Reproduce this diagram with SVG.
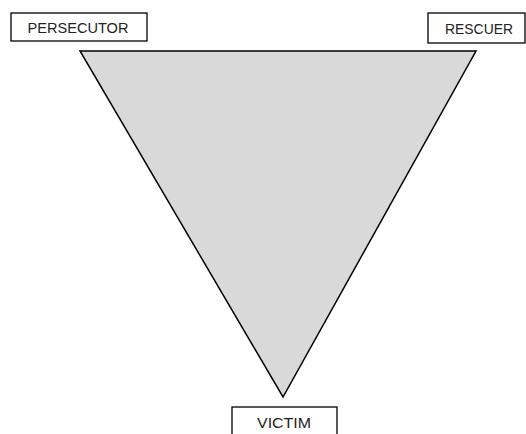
<svg xmlns="http://www.w3.org/2000/svg" width="526" height="434" viewBox="0 0 526 434">
<style>
.box{fill:#fff;stroke:#000;stroke-width:1.3}
.lbl{font-family:"Liberation Sans",Arial,sans-serif;font-size:15px;fill:#222;text-anchor:middle}
</style>
<rect width="526" height="434" fill="#fff"/>
<g id="triangle">
<polygon points="80,51 476,51 283,397" fill="#d9d9d9" stroke="#000" stroke-width="1.5" stroke-linejoin="miter"/>
</g>
<g id="connectors"></g>
<g id="persecutor">
<rect class="box" x="11" y="13" width="136" height="28"/>
<text class="lbl" x="78" y="33" textLength="101" lengthAdjust="spacingAndGlyphs">PERSECUTOR</text>
</g>
<g id="rescuer">
<rect class="box" x="428" y="13" width="97" height="30"/>
<text class="lbl" x="479" y="34" textLength="68" lengthAdjust="spacingAndGlyphs">RESCUER</text>
</g>
<g id="victim">
<rect class="box" x="232" y="407" width="105" height="40"/>
<text class="lbl" x="284" y="428" textLength="54" lengthAdjust="spacingAndGlyphs">VICTIM</text>
</g>
</svg>
